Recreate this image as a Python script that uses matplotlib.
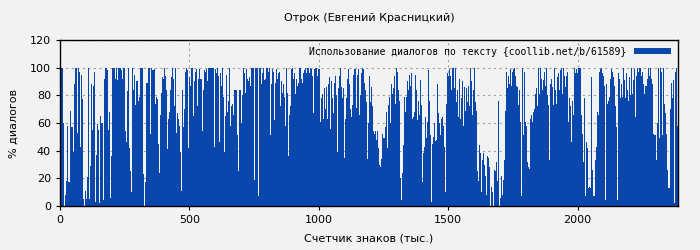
import numpy as np
import matplotlib
matplotlib.use("Agg")
import matplotlib.pyplot as plt

title = "Отрок (Евгений Красницкий)"
xlabel = "Счетчик знаков (тыс.)"
ylabel = "% диалогов"
legend_label = "Использование диалогов по тексту {coollib.net/b/61589}"
x_max = 2388
xticks = [0, 500, 1000, 1500, 2000]
yticks = [0, 20, 40, 60, 80, 100, 120]

seg1 = [100, 100, 100, 60, 0, 8, 18, 58, 17, 17, 69, 57, 57, 39, 88, 100, 100, 53, 100, 97,
        43, 95, 77, 5, 0, 11, 5, 21, 100, 5, 29, 88, 55, 87, 97, 3, 37, 59, 55, 2,
        65, 60, 60, 4, 92, 100, 100, 98, 55, 68, 6, 36, 100, 100, 100, 92, 100, 91, 100, 100,
        100, 98, 92, 100, 100]
seg2 = [54, 46, 83, 100, 42, 25, 10, 100, 84, 95, 73, 90, 90, 76, 79, 100, 100, 100, 23, 0,
        17, 89, 89, 100, 100, 52, 100, 98, 98, 99, 74, 79, 77, 45, 24, 66, 82, 93, 92, 100,
        94, 84, 41, 63, 68, 84, 93, 100, 92, 72, 100, 53, 67, 63, 58, 39, 11, 84, 57, 70,
        97, 100, 98, 42, 93]
seg3 = [87, 100, 100, 65, 90, 97, 99, 72, 92, 99, 92, 92, 54, 84, 98, 97, 99, 90, 100, 100,
        100, 100, 100, 100, 43, 99, 96, 100, 94, 46, 96, 87, 100, 79, 39, 65, 95, 68, 76, 100,
        58, 72, 74, 66, 84, 84, 84, 51, 25, 84, 84, 60, 80, 100, 96, 82, 99, 92, 90, 93,
        87, 100, 100, 100, 19]
seg4 = [100, 100, 100, 7, 100, 100, 88, 96, 100, 91, 92, 100, 100, 97, 100, 51, 88, 99, 97, 62,
        89, 99, 92, 96, 97, 72, 90, 82, 88, 79, 58, 100, 82, 36, 66, 72, 99, 100, 92, 96,
        81, 92, 87, 89, 100, 100, 92, 89, 96, 98, 100, 96, 100, 100, 96, 100, 99, 94, 67, 99,
        100, 100, 94, 99, 99]
seg5 = [61, 78, 81, 63, 85, 70, 86, 63, 88, 93, 56, 90, 78, 67, 89, 94, 80, 39, 85, 94,
        100, 86, 78, 85, 35, 63, 78, 92, 99, 88, 70, 64, 73, 95, 99, 99, 71, 95, 99, 66,
        80, 96, 100, 99, 89, 84, 75, 34, 60, 94, 75, 86, 72, 54, 52, 54, 48, 54, 42, 30,
        28, 34, 52, 49, 49]
seg6 = [57, 68, 42, 73, 79, 60, 88, 81, 85, 94, 74, 100, 97, 84, 76, 20, 4, 24, 44, 79,
        68, 79, 90, 84, 95, 87, 96, 63, 64, 68, 95, 84, 62, 76, 66, 91, 73, 17, 38, 43,
        64, 49, 61, 98, 76, 51, 3, 45, 50, 60, 47, 48, 88, 67, 60, 51, 63, 64, 58, 43,
        10, 74, 96, 94, 99]
seg7 = [94, 84, 100, 100, 85, 100, 75, 84, 64, 92, 63, 78, 90, 58, 86, 69, 85, 75, 87, 72,
        100, 90, 66, 84, 100, 75, 69, 25, 18, 44, 38, 10, 33, 38, 30, 22, 8, 36, 35, 28,
        0, 14, 10, 0, 26, 25, 32, 18, 76, 0, 6, 22, 8, 19, 33, 69, 97, 85, 94, 88,
        99, 87, 97, 99, 100]
seg8 = [94, 87, 86, 73, 84, 61, 7, 100, 51, 97, 61, 58, 32, 28, 27, 63, 66, 61, 68, 70,
        81, 85, 72, 100, 81, 100, 92, 84, 91, 97, 87, 100, 80, 73, 33, 88, 92, 86, 73, 100,
        84, 74, 93, 96, 84, 98, 100, 81, 100, 94, 86, 94, 97, 61, 78, 72, 46, 76, 66, 100,
        96, 99, 96, 100, 100]
seg9 = [100, 66, 52, 32, 78, 7, 46, 42, 13, 14, 13, 93, 26, 7, 7, 33, 43, 68, 66, 97,
        99, 100, 96, 94, 87, 4, 88, 74, 76, 79, 92, 99, 97, 93, 87, 72, 57, 4, 96, 92,
        78, 88, 79, 100, 91, 78, 96, 84, 76, 93, 80, 100, 81, 91, 99, 64, 94, 100, 97, 100,
        100, 94, 97, 88, 81]
seg10 = [87, 87, 92, 100, 94, 100, 92, 88, 52, 51, 51, 33, 60, 100, 49, 100, 97, 51, 100, 74,
         67, 52, 26, 13, 13, 70, 89, 78, 91, 2, 97, 100, 58]

values = np.array(seg1 + seg2 + seg3 + seg4 + seg5 + seg6 + seg7 + seg8 + seg9 + seg10, dtype=float)
step = x_max / len(values)
xs = np.arange(len(values)) * step

bg = "#f2f2f2"
bar_color = "#0a47ad"

fig = plt.figure(figsize=(7, 2.5), dpi=100, facecolor=bg)
ax = fig.add_axes([0.0857, 0.176, 0.8829, 0.664])
ax.set_facecolor(bg)

ax.bar(xs, values, width=step, align="edge", color=bar_color, linewidth=0,
       antialiased=False, zorder=2, label=legend_label)

ax.set_xlim(0, x_max)
ax.set_ylim(0, 120)
ax.set_xticks(xticks)
ax.set_yticks(yticks)
ax.grid(True, color="#a0a0a0", linestyle=(0, (2, 3)), linewidth=0.8, zorder=0)
ax.set_axisbelow(True)
for s in ax.spines.values():
    s.set_color("black")
    s.set_linewidth(1.0)
ax.tick_params(axis="both", labelsize=8, length=3, direction="out", colors="black")

ax.set_title(title, fontsize=8, pad=14)
ax.set_xlabel(xlabel, fontsize=8, labelpad=6)
ax.set_ylabel(ylabel, fontsize=8, labelpad=8)

leg = ax.legend(loc="upper right", frameon=False, fontsize=8, handlelength=3.8,
                handleheight=0.6, markerfirst=False, borderaxespad=0.3, handletextpad=0.8,
                prop={"family": "DejaVu Sans Mono", "size": 7})

fig.savefig("out.png", dpi=100, facecolor=bg)
